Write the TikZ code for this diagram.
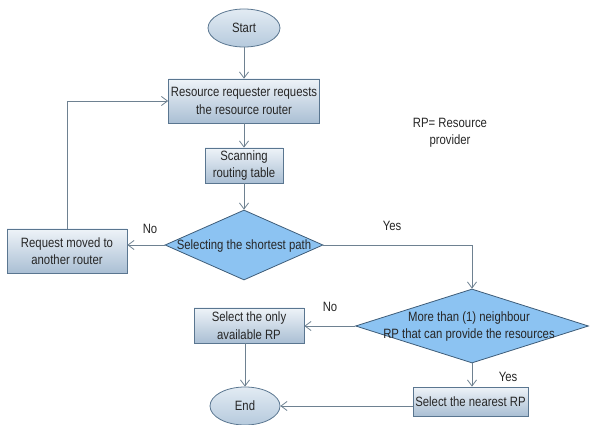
\documentclass[tikz,border=0pt]{standalone}
\usepackage{fontspec}
\setmainfont[FakeStretch=0.84]{Liberation Sans}
\usetikzlibrary{shapes.geometric,arrows.meta}

\definecolor{boxtop}{HTML}{EEF3F8}
\definecolor{boxbot}{HTML}{AABFD4}
\definecolor{boxline}{HTML}{5A7690}
\definecolor{termtop}{HTML}{E2EBF3}
\definecolor{termbot}{HTML}{B6CADD}
\definecolor{dfill}{HTML}{8CC3F2}
\definecolor{dline}{HTML}{3E5C78}
\definecolor{conn}{HTML}{6E8191}
\definecolor{txt}{HTML}{262626}

\begin{document}
\begin{tikzpicture}[x=1pt,y=-1pt,
  every node/.style={font=\fontsize{13.5}{17.5}\selectfont, text=txt, inner sep=0pt},
  procbox/.style={rectangle, draw=boxline, line width=0.8pt, top color=boxtop, bottom color=boxbot, align=center},
  term/.style={ellipse, draw=boxline, line width=0.8pt, top color=termtop, bottom color=termbot, minimum width=72pt, minimum height=38pt},
  decision/.style={diamond, draw=dline, line width=0.8pt, fill=dfill},
  flow/.style={draw=conn, line width=0.8pt, -{Straight Barb[length=6pt,width=9pt]}},
  tag/.style={align=center}]

\useasboundingbox (0,0) rectangle (590,425);

% terminals, process boxes and decisions
\node[term] (start) at (244,28) {Start};
\node[procbox, minimum width=151pt, minimum height=44pt] (req) at (244,101)
  {Resource requester requests\\the resource router};
\node[procbox, minimum width=78pt, minimum height=35pt] (scan) at (244,165.5)
  {Scanning\\routing table};
\node[decision, minimum width=158pt, minimum height=70pt] (short) at (244,245) {};
\node[tag] at (244,246) {Selecting the shortest path};
\node[procbox, minimum width=120pt, minimum height=44pt] (moved) at (67,251)
  {Request moved to\\another router};
\node[decision, minimum width=233pt, minimum height=74pt] (more) at (472,326) {};
\node[tag] at (469,326.5) {More than (1) neighbour\\RP that can provide the resources};
\node[procbox, minimum width=110pt, minimum height=35pt] (only) at (249,325.5)
  {Select the only\\available RP};
\node[procbox, minimum width=115pt, minimum height=29pt] (near) at (470.5,401.5)
  {Select the nearest RP};
\node[term, minimum width=70pt] (fin) at (245,406) {End};

% legend
\node[tag] (legend) at (450,133) {RP= Resource\\provider};

% connectors
\draw[flow] (start.south) -- (req.north);
\draw[flow] (req.south) -- (scan.north);
\draw[flow] (scan.south) -- (short.north);
\draw[flow] (short.west) -- (short.west -| moved.east);
\draw[flow] (moved.north) |- (req.west);
\draw[flow] (short.east) -| (more.north);
\draw[flow] (more.west) -- (more.west -| only.east);
\draw[flow] (more.south) -- (more.south |- near.north);
\draw[flow] (only.south -| fin.north) -- (fin.north);
\draw[flow] (fin.east -| near.west) -- (fin.east);

% branch labels
\node[tag] (no1) at (150,229) {No};
\node[tag] (yes1) at (392,226) {Yes};
\node[tag] (no2) at (330,307) {No};
\node[tag] (yes2) at (508,377) {Yes};
\end{tikzpicture}
\end{document}
